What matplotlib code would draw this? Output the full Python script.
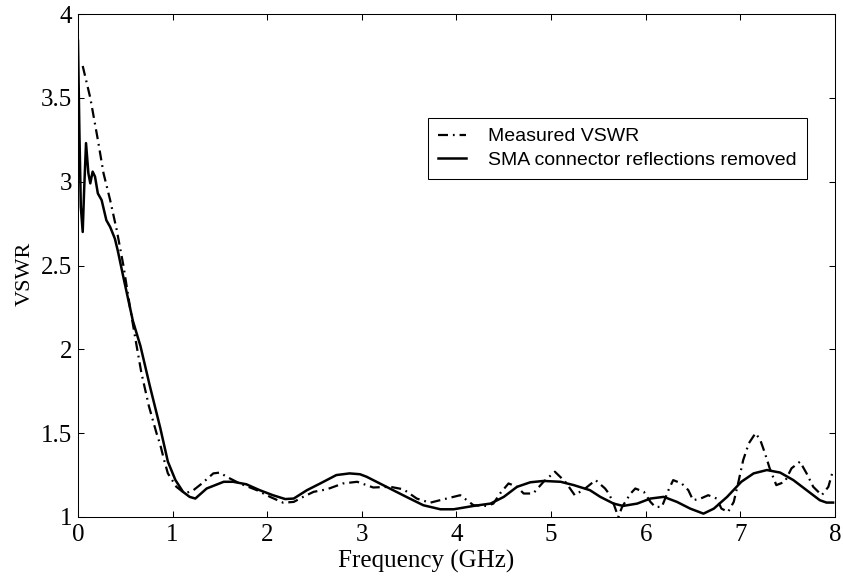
import matplotlib
matplotlib.use("Agg")
import matplotlib.pyplot as plt

# ── data (frequency in GHz, VSWR) ────────────────────────────────────────────
meas_f = [0.05, 0.13, 0.21, 0.27, 0.34, 0.41, 0.48, 0.55, 0.62, 0.67, 0.75,
          0.83, 0.87, 0.91, 0.95, 1.04, 1.13, 1.22, 1.31, 1.43, 1.50, 1.57,
          1.71, 1.89, 2.03, 2.17, 2.28, 2.38, 2.49, 2.63, 2.80, 2.95, 3.12,
          3.30, 3.44, 3.58, 3.72, 3.86, 4.04, 4.18, 4.32, 4.39, 4.46, 4.55,
          4.64, 4.71, 4.81, 4.92, 5.04, 5.15, 5.25, 5.36, 5.47, 5.57, 5.61,
          5.66, 5.71, 5.75, 5.84, 5.89, 5.98, 6.05, 6.10, 6.17, 6.24, 6.29,
          6.38, 6.45, 6.50, 6.58, 6.66, 6.75, 6.80, 6.87, 6.93, 6.98, 7.03,
          7.09, 7.16, 7.21, 7.26, 7.31, 7.38, 7.47, 7.54, 7.63, 7.70, 7.77,
          7.86, 7.93, 7.98]
meas_vswr = [3.69, 3.50, 3.25, 3.05, 2.89, 2.71, 2.50, 2.25, 2.02, 1.86, 1.66,
             1.50, 1.43, 1.34, 1.26, 1.18, 1.14, 1.16, 1.20, 1.26, 1.265, 1.24,
             1.20, 1.16, 1.12, 1.085, 1.09, 1.12, 1.15, 1.165, 1.20, 1.21, 1.176,
             1.18, 1.165, 1.11, 1.085, 1.105, 1.13, 1.07, 1.066, 1.08, 1.14, 1.20,
             1.18, 1.14, 1.14, 1.21, 1.27, 1.21, 1.13, 1.17, 1.22, 1.17, 1.14,
             1.08, 1.00, 1.06, 1.14, 1.17, 1.15, 1.09, 1.06, 1.06, 1.16, 1.22,
             1.20, 1.16, 1.10, 1.11, 1.13, 1.11, 1.05, 1.03, 1.09, 1.21, 1.34,
             1.44, 1.50, 1.46, 1.38, 1.29, 1.19, 1.21, 1.29, 1.33, 1.26, 1.18,
             1.13, 1.18, 1.28]

corr_f = [0.0, 0.015, 0.03, 0.05, 0.065, 0.085, 0.11, 0.13, 0.155, 0.18, 0.21,
          0.25, 0.30, 0.34, 0.39, 0.42, 0.48, 0.58, 0.66, 0.76, 0.87, 0.95,
          1.03, 1.11, 1.18, 1.24, 1.36, 1.54, 1.64, 1.78, 1.92, 2.06, 2.19,
          2.28, 2.42, 2.56, 2.73, 2.87, 2.98, 3.05, 3.26, 3.47, 3.65, 3.83,
          3.97, 4.18, 4.36, 4.50, 4.64, 4.78, 4.92, 5.10, 5.24, 5.41, 5.52,
          5.66, 5.76, 5.91, 6.05, 6.19, 6.33, 6.47, 6.61, 6.72, 6.86, 7.01,
          7.14, 7.28, 7.42, 7.56, 7.70, 7.84, 7.91, 7.98]
corr_vswr = [3.84, 3.30, 2.85, 2.70, 2.95, 3.23, 3.05, 2.99, 3.06, 3.03, 2.93,
             2.89, 2.77, 2.73, 2.66, 2.59, 2.43, 2.17, 2.02, 1.78, 1.53, 1.33,
             1.22, 1.15, 1.12, 1.11, 1.17, 1.21, 1.21, 1.195, 1.16, 1.13, 1.107,
             1.11, 1.16, 1.20, 1.25, 1.26, 1.255, 1.24, 1.18, 1.12, 1.07, 1.046,
             1.046, 1.066, 1.08, 1.12, 1.18, 1.207, 1.215, 1.21, 1.19, 1.16, 1.12,
             1.08, 1.066, 1.08, 1.11, 1.12, 1.09, 1.05, 1.02, 1.05, 1.12, 1.21,
             1.26, 1.28, 1.265, 1.22, 1.16, 1.10, 1.086, 1.086]

x_ticks = [0, 1, 2, 3, 4, 5, 6, 7, 8]
y_ticks = [1, 1.5, 2, 2.5, 3, 3.5, 4]
y_tick_labels = ["1", "1.5", "2", "2.5", "3", "3.5", "4"]

# ── style ───────────────────────────────────────────────────────────────────
plt.rcParams.update({
    "font.family": "Liberation Serif",
    "axes.linewidth": 0.75,
    "xtick.direction": "in",
    "ytick.direction": "in",
    "xtick.top": True,
    "ytick.right": True,
    "xtick.major.size": 4.5,
    "ytick.major.size": 4.5,
    "xtick.major.width": 0.75,
    "ytick.major.width": 0.75,
})

fig = plt.figure(figsize=(8.43, 5.77), dpi=100)
ax = fig.add_axes([0.0925, 0.104, 0.898, 0.8717])

ax.plot(meas_f, meas_vswr, color="black", lw=1.6,
        ls=(0, (4.5, 2.2, 0.8, 2.2)), label="Measured VSWR")
ax.plot(corr_f, corr_vswr, color="black", lw=1.8,
        label="SMA connector reflections removed")

ax.set_xlim(0, 8)
ax.set_ylim(1, 4)
ax.set_xticks(x_ticks)
ax.set_yticks(y_ticks)
ax.set_yticklabels(y_tick_labels)
ax.tick_params(axis="x", labelsize=18, pad=5)
ax.tick_params(axis="y", labelsize=18, pad=4)
ax.set_xlabel("Frequency (GHz)", fontsize=18)
ax.set_ylabel("VSWR", fontsize=16)
# MATLAB-style label placement (slightly off-centre, as in the original)
ax.xaxis.set_label_coords(0.46, -0.066)
ax.yaxis.set_label_coords(-0.057, 0.483)

leg = ax.legend(loc="upper left", bbox_to_anchor=(0.4624, 0.7932),
                borderaxespad=0, fancybox=False, framealpha=1,
                edgecolor="black", handlelength=1.45, handletextpad=1.15,
                labelspacing=0.3, borderpad=0.5,
                prop={"family": "Liberation Sans", "size": 14})
leg.get_frame().set_linewidth(0.75)

fig.savefig("out.png", dpi=100)
